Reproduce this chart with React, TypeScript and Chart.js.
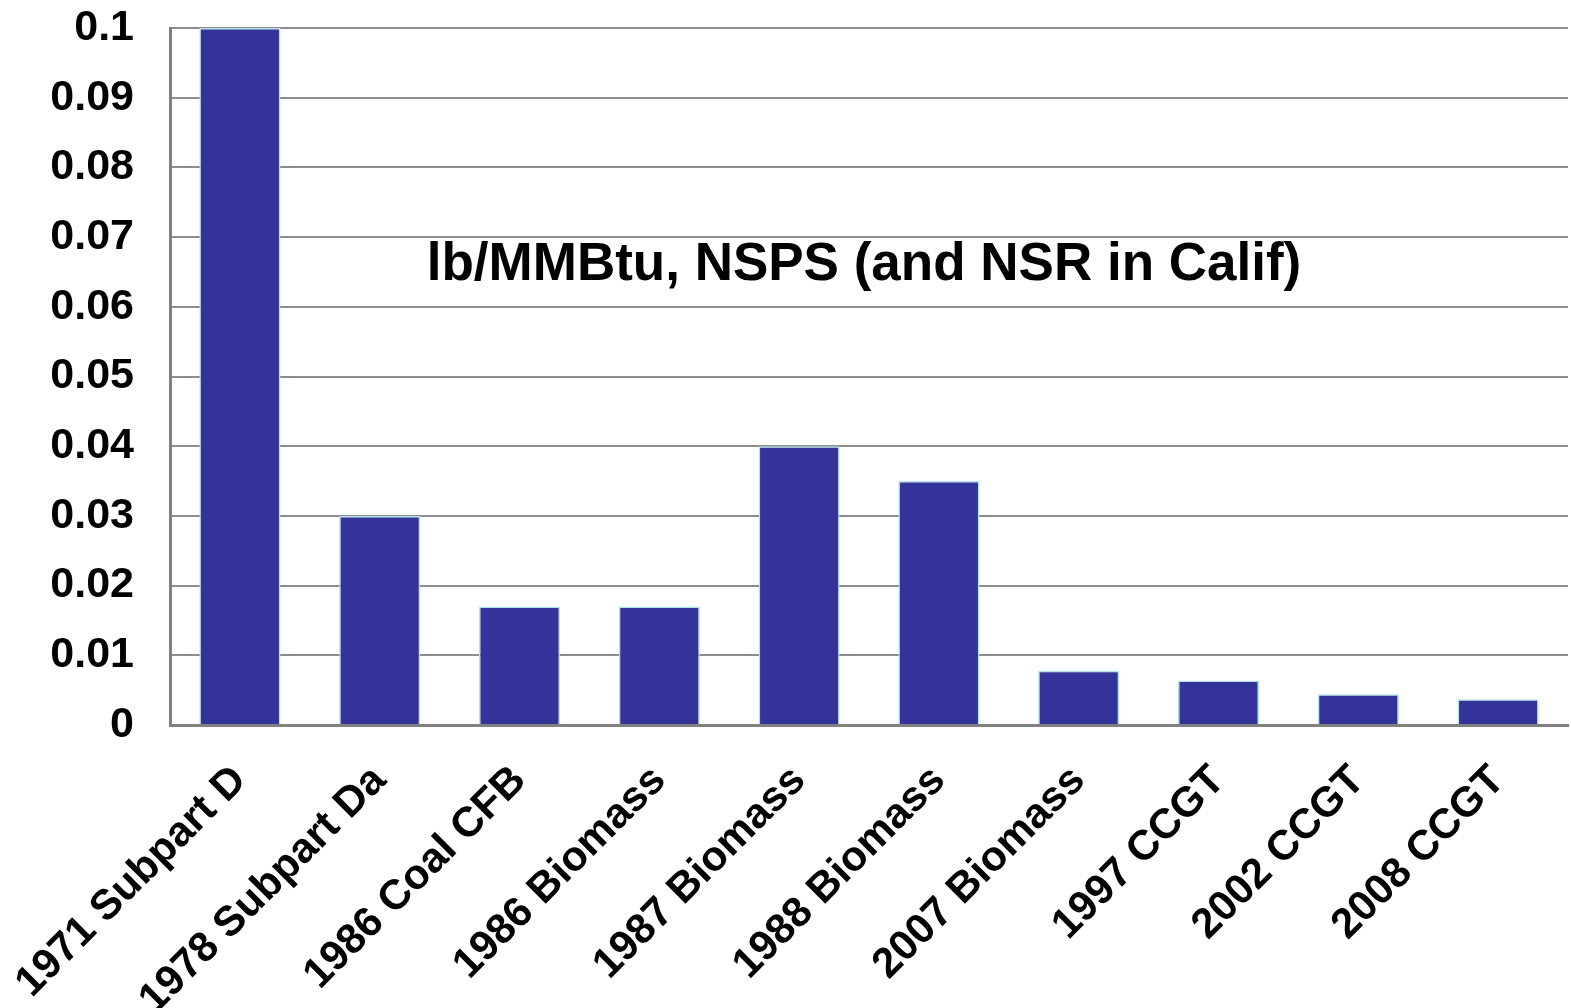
import React, { useEffect, useRef } from "react";
import { Chart, registerables } from "chart.js";

Chart.register(...registerables);

const categories = [
  "1971 Subpart D",
  "1978 Subpart Da",
  "1986 Coal CFB",
  "1986 Biomass",
  "1987 Biomass",
  "1988 Biomass",
  "2007 Biomass",
  "1997 CCGT",
  "2002 CCGT",
  "2008 CCGT",
];
const values = [0.1, 0.03, 0.017, 0.017, 0.04, 0.035, 0.0078, 0.0064, 0.0044, 0.0037];
const annotationText = "lb/MMBtu, NSPS (and NSR in Calif)";
const yTickMax = 0.1;
const yTickStep = 0.01;

const FONT = "'Liberation Sans', Arial, Helvetica, sans-serif";

const innerTitle = {
  id: "innerTitle",
  afterDatasetsDraw(chart: any) {
    const { ctx, chartArea, scales } = chart;
    const x = (chartArea.left + chartArea.right) / 2 - 5;
    const y = scales.y.getPixelForValue(0.066);
    ctx.save();
    ctx.font = `bold 53px ${FONT}`;
    ctx.fillStyle = "#000";
    ctx.textAlign = "center";
    ctx.textBaseline = "middle";
    ctx.fillText(annotationText, x, y);
    ctx.restore();
  },
};

function zeroPad(s: any) {
  s.paddingLeft = 0;
  s.paddingRight = 0;
  s.paddingTop = 0;
  s.paddingBottom = 0;
}

export default function App() {
  const ref = useRef<HTMLCanvasElement | null>(null);
  useEffect(() => {
    document.body.style.margin = "0";
    const chart = new Chart(ref.current as HTMLCanvasElement, {
      type: "bar",
      data: {
        labels: categories,
        datasets: [
          {
            data: values,
            backgroundColor: "#333399",
            borderColor: "#b4e2e6",
            borderWidth: 1.5,
            barPercentage: 0.58,
            categoryPercentage: 1,
          },
        ],
      },
      options: {
        animation: false,
        responsive: false,
        maintainAspectRatio: false,
        layout: { padding: { left: 0, right: 3, top: 28, bottom: 0 } },
        plugins: {
          legend: { display: false },
          tooltip: { enabled: false },
          title: { display: false },
        },
        scales: {
          x: {
            grid: { display: false, drawTicks: false },
            border: { display: true, color: "#808080", width: 3 },
            afterFit: (s: any) => {
              s.height = 283;
              zeroPad(s);
            },
            ticks: {
              color: "#000",
              font: { family: FONT, size: 42, weight: "bold" },
              minRotation: 45,
              maxRotation: 45,
              padding: 31,
              autoSkip: false,
            },
          },
          y: {
            min: 0,
            max: yTickMax,
            grid: { color: "#8c8c8c", lineWidth: 2, drawTicks: false },
            border: { display: true, color: "#808080", width: 3 },
            afterFit: (s: any) => {
              s.width = 170;
              zeroPad(s);
            },
            ticks: {
              stepSize: yTickStep,
              color: "#000",
              padding: 36,
              font: { family: FONT, size: 43, weight: "bold" },
              callback: (v: any) => String(Number(Number(v).toFixed(2))),
            },
          },
        },
      },
      plugins: [innerTitle],
    });
    return () => chart.destroy();
  }, []);
  return (
    <div style={{ position: "fixed", left: 0, top: 0, width: 1571, height: 1008, background: "#fff" }}>
      <canvas ref={ref} width={1571} height={1008} style={{ display: "block" }} />
    </div>
  );
}
